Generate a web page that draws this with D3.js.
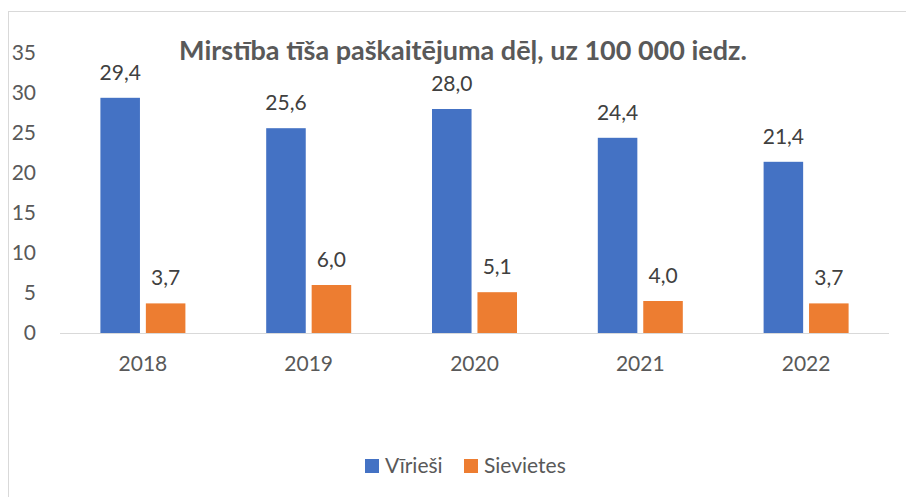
<!DOCTYPE html>
<html>
<head>
<meta charset="utf-8">
<script src="https://cdn.jsdelivr.net/npm/d3@7"></script>
<style>
  body { margin: 0; background: #fff; }
  svg { display: block; font-family: Lato, "Open Sans", sans-serif; }
</style>
</head>
<body>
<svg id="chart" width="906" height="497"></svg>
<script>
var years = ["2018", "2019", "2020", "2021", "2022"];
var seriesNames = ["Vīrieši", "Sievietes"];
var men = [29.4, 25.6, 28.0, 24.4, 21.4];
var women = [3.7, 6.0, 5.1, 4.0, 3.7];
var yTicks = [0, 5, 10, 15, 20, 25, 30, 35];
var colors = ["#4472C4", "#ED7D31"];

var svg = d3.select("#chart");

// frame
svg.append("rect")
  .attr("x", 8.5).attr("y", 11.5)
  .attr("width", 900).attr("height", 492)
  .attr("fill", "none").attr("stroke", "#d9d9d9");

var x0 = d3.scaleBand().domain(years).range([60, 889]);
var x1 = d3.scaleBand().domain(seriesNames).range([0, 85]).paddingInner(0.13);
var y = d3.scaleLinear().domain([0, 35]).range([333, 53]);

// y tick labels
svg.append("g").selectAll("text")
  .data(yTicks).enter().append("text")
  .attr("x", 36).attr("y", function(d) { return y(d); })
  .attr("dy", "0.35em")
  .attr("text-anchor", "end")
  .attr("font-size", 21).attr("fill", "#595959")
  .text(function(d) { return d; });

var rows = years.map(function(yr, i) { return {year: yr, vals: [men[i], women[i]]}; });

var groups = svg.append("g").selectAll("g")
  .data(rows).enter().append("g")
  .attr("transform", function(d) { return "translate(" + (x0(d.year) + (x0.bandwidth() - 85) / 2) + ",0)"; });

groups.selectAll("rect")
  .data(function(d) { return d.vals.map(function(v, j) { return {name: seriesNames[j], v: v, j: j}; }); })
  .enter().append("rect")
  .attr("x", function(d) { return x1(d.name); })
  .attr("y", function(d) { return y(d.v); })
  .attr("width", x1.bandwidth())
  .attr("height", function(d) { return y(0) - y(d.v); })
  .attr("fill", function(d) { return colors[d.j]; });

groups.selectAll("text")
  .data(function(d) { return d.vals.map(function(v, j) { return {name: seriesNames[j], v: v, j: j}; }); })
  .enter().append("text")
  .attr("x", function(d) { return x1(d.name) + x1.bandwidth() / 2; })
  .attr("y", function(d) { return y(d.v) - 18; })
  .attr("text-anchor", "middle")
  .attr("font-size", 21).attr("fill", "#404040")
  .text(function(d) { return d.v.toFixed(1).replace(".", ","); });

// baseline
svg.append("line")
  .attr("x1", 60).attr("x2", 889)
  .attr("y1", y(0) + 0.5).attr("y2", y(0) + 0.5)
  .attr("stroke", "#d9d9d9").attr("stroke-width", 1);

// x labels
svg.append("g").selectAll("text")
  .data(years).enter().append("text")
  .attr("x", function(d) { return x0(d) + x0.bandwidth() / 2; })
  .attr("y", 371)
  .attr("text-anchor", "middle")
  .attr("font-size", 21).attr("fill", "#595959")
  .text(function(d) { return d; });

// title
svg.append("text")
  .attr("x", 463).attr("y", 60)
  .attr("text-anchor", "middle")
  .attr("font-size", 27).attr("font-weight", "bold").attr("fill", "#595959")
  .text("Mirstība tīša paškaitējuma dēļ, uz 100 000 iedz.");

// legend
var legendX = [365, 464];
var leg = svg.append("g").selectAll("g")
  .data(seriesNames).enter().append("g")
  .attr("transform", function(d, i) { return "translate(" + legendX[i] + ",459)"; });
leg.append("rect").attr("width", 14).attr("height", 14)
  .attr("fill", function(d, i) { return colors[i]; });
leg.append("text").attr("x", 20).attr("y", 7).attr("dy", "0.35em")
  .attr("font-size", 21).attr("fill", "#595959")
  .text(function(d) { return d; });
</script>
</body>
</html>
